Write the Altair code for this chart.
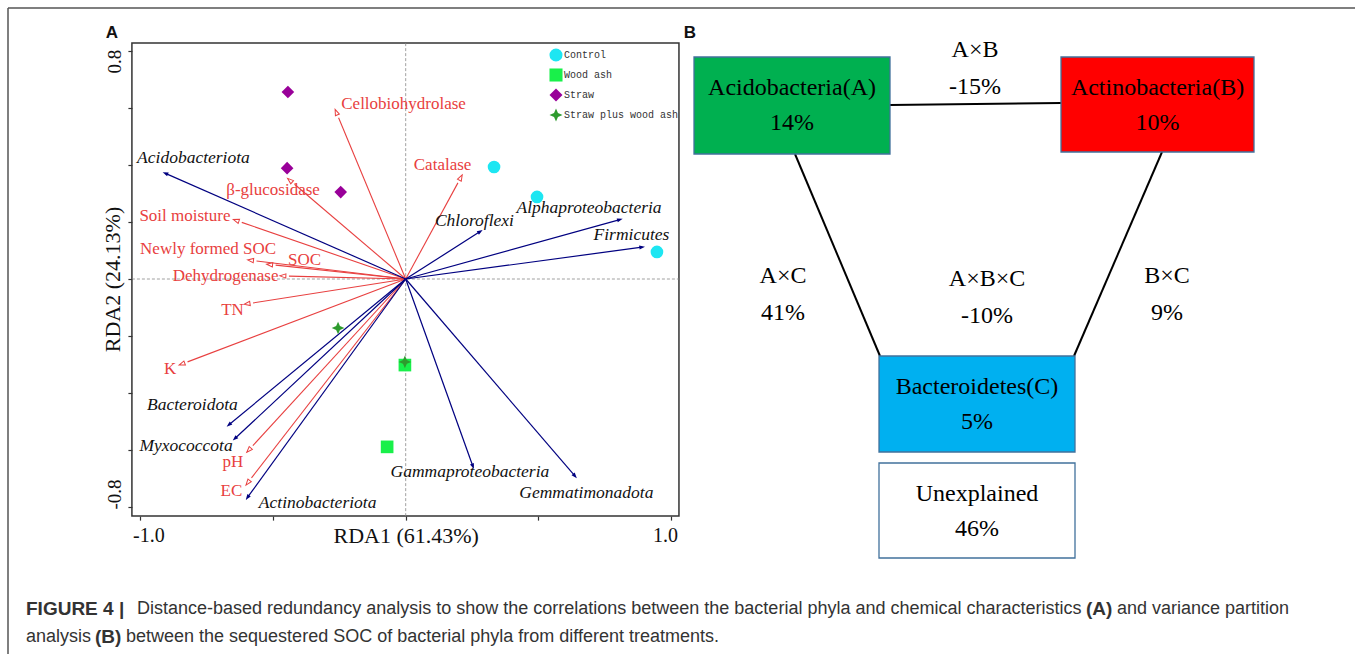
import math
import altair as alt
import pandas as pd

W, H = 1355, 654

# ---------------- data: panel A (RDA biplot) ----------------
env_names = ["Cellobiohydrolase", "Catalase", "β-glucosidase", "Soil moisture",
             "Newly formed SOC", "SOC", "Dehydrogenase", "TN", "K", "pH", "EC"]
env_x = [-0.266, 0.213, -0.445, -0.650, -0.596, -0.524, -0.474, -0.609, -0.854, -0.599, -0.602]
env_y = [0.595, 0.365, 0.353, 0.209, 0.067, 0.052, 0.011, -0.089, -0.302, -0.608, -0.723]
env_lab_x = [-0.008, 0.139, -0.500, -0.832, -0.745, -0.381, -0.679, -0.653, -0.888, -0.651, -0.657]
env_lab_y = [0.614, 0.400, 0.312, 0.221, 0.105, 0.067, 0.011, -0.109, -0.316, -0.642, -0.744]

phy_names = ["Acidobacteriota", "Chloroflexi", "Alphaproteobacteria", "Firmicutes",
             "Gammaproteobacteria", "Gemmatimonadota", "Bacteroidota", "Myxococcota",
             "Actinobacteriota"]
phy_x = [-0.916, 0.290, 0.818, 0.902, 0.257, 0.645, -0.675, -0.652, -0.603]
phy_y = [0.375, 0.172, 0.211, 0.113, -0.667, -0.699, -0.518, -0.567, -0.775]
phy_lab_x = [-0.800, 0.259, 0.691, 0.851, 0.242, 0.681, -0.804, -0.828, -0.332]
phy_lab_y = [0.425, 0.204, 0.249, 0.154, -0.677, -0.751, -0.442, -0.586, -0.786]

treatments = ["Control", "Wood ash", "Straw", "Straw plus wood ash"]
smp_trt = ["Straw", "Straw", "Straw", "Control", "Control", "Control",
           "Wood ash", "Wood ash", "Straw plus wood ash", "Straw plus wood ash"]
smp_x = [-0.444, -0.447, -0.245, 0.333, 0.495, 0.947, -0.070, -0.003, -0.255, -0.003]
smp_y = [0.656, 0.389, 0.305, 0.393, 0.288, 0.095, -0.589, -0.302, -0.172, -0.291]

x_ticks = [-1, -0.5, 0, 0.5, 1]
y_ticks = [-0.8, -0.6, -0.4, -0.2, 0, 0.2, 0.4, 0.6, 0.8]
x_title = "RDA1 (61.43%)"
y_title = "RDA2 (24.13%)"

# ---------------- data: panel B (variance partition) ----------------
box_labels = ["Acidobacteria(A)", "Actinobacteria(B)", "Bacteroidetes(C)", "Unexplained"]
box_pcts = ["14%", "10%", "5%", "46%"]
inter_labels = ["A×B", "A×C", "A×B×C", "B×C"]
inter_pcts = ["-15%", "41%", "-10%", "9%"]

# ---------------- caption ----------------
cap_segments = ["FIGURE 4 |",
                "Distance-based redundancy analysis to show the correlations between the bacterial phyla and chemical characteristics",
                "(A)", "and variance partition",
                "analysis", "(B)",
                "between the sequestered SOC of bacterial phyla from different treatments."]
cap_bold = [True, False, True, False, False, True, False]

# ---------------- layout / style ----------------
PX0, KX = 405.7, 265.3      # pixel of RDA1 = 0, pixels per unit
PY0, KY = 279.0, 285.0      # pixel of RDA2 = 0, pixels per unit
XDOM = [(0 - PX0) / KX, (W - PX0) / KX]
YDOM = [(PY0 - H) / KY, PY0 / KY]
XLIM = [-1.032, 1.030]
YLIM = [-0.832, 0.828]

RED = "#e84040"
NAVY = "#000080"
SERIF = "Liberation Serif"
SANS = "Liberation Sans"
HEAD = "M0,0L-0.36,1L0.36,1Z"
STAR = "M0,-1L0.3,-0.3L1,0L0.3,0.3L0,1L-0.3,0.3L-1,0L-0.3,-0.3Z"
trt_colors = ["#1de6f2", "#19f04a", "#990099", "#2e9b2e"]
trt_shapes = ["circle", "square", "diamond", STAR]

box_layout = [(694, 890, 57, 154), (1061, 1254, 57, 152), (879, 1075, 356, 452), (879, 1075, 463, 558)]
box_fill = ["#00b050", "#ff0000", "#00b0f0", "#ffffff"]
inter_pos = [(975, 50), (783, 276), (987, 279), (1167, 276)]
connectors = [(890, 105, 1061, 103), (795, 154, 880, 356), (1162, 152, 1074, 356)]
cap_pos = [(26, 609), (137, 609), (1086, 609), (1117, 609), (26, 637), (95, 637), (126, 637)]

xs = alt.Scale(domain=XDOM, nice=False, zero=False)
ys = alt.Scale(domain=YDOM, nice=False, zero=False)

x_axis = alt.Axis(
    orient="bottom", offset=-(H - (PY0 - YLIM[0] * KY)), values=x_ticks,
    domain=False, grid=False, tickSize=4, tickWidth=1.2, tickColor="#333",
    labelExpr=f"datum.value == -1 ? '-1.0' : datum.value == 1 ? '1.0' : datum.value == 0 ? '{x_title}' : ''",
    labelFont=SERIF, labelColor="#111", labelPadding=5, labelOverlap=False, labelFlush=False,
    labelFontSize={"condition": {"test": "datum.value == 0", "value": 22}, "value": 20},
    labelOffset={"condition": [{"test": "datum.value < -0.5", "value": 8},
                               {"test": "datum.value > 0.5", "value": -6}], "value": 0},
    title=None,
)
y_axis = alt.Axis(
    orient="left", offset=-(PX0 + XLIM[0] * KX), values=y_ticks,
    domain=False, grid=False, tickSize=4, tickWidth=1.2, tickColor="#333",
    labelExpr=f"datum.value == -0.8 ? '-0.8' : datum.value == 0.8 ? '0.8' : datum.value == 0 ? '{y_title}' : ''",
    labelFont=SERIF, labelColor="#111", labelPadding=3, labelAngle=270, labelOverlap=False,
    labelFlush=False, labelAlign="center", labelBaseline="bottom",
    labelFontSize={"condition": {"test": "datum.value == 0", "value": 22}, "value": 19},
    labelOffset={"condition": [{"test": "datum.value > 0.5", "value": 10},
                               {"test": "datum.value < -0.5", "value": -13}], "value": 0},
    title=None,
)


def AX(f):
    return alt.X(f, type="quantitative", scale=xs, axis=x_axis, title=None)


def AY(f):
    return alt.Y(f, type="quantitative", scale=ys, axis=y_axis, title=None)


# ---- panel A frames ----
frame = alt.Chart(pd.DataFrame({"x": [XLIM[0]], "x2": [XLIM[1]], "y": [YLIM[0]], "y2": [YLIM[1]]})).mark_rect(
    fillOpacity=0, stroke="#333", strokeWidth=1.5
).encode(x=AX("x"), x2="x2", y=AY("y"), y2="y2")

zero_v = alt.Chart(pd.DataFrame({"x": [0.0], "y": [YLIM[0]], "y2": [YLIM[1]]})).mark_rule(
    color="#888", strokeWidth=0.8, strokeDash=[3, 2]).encode(x=AX("x"), y=AY("y"), y2="y2")
zero_h = alt.Chart(pd.DataFrame({"y": [0.0], "x": [XLIM[0]], "x2": [XLIM[1]]})).mark_rule(
    color="#888", strokeWidth=0.8, strokeDash=[3, 2]).encode(y=AY("y"), x=AX("x"), x2="x2")


def arrow_df(names, xs_, ys_, shorten):
    rows = []
    for n, dx, dy in zip(names, xs_, ys_):
        lp = math.hypot(dx * KX, dy * KY)
        f = 1 - shorten / lp
        ang = (math.degrees(math.atan2(dx * KX, dy * KY)) + 360) % 360
        rows.append({"name": n, "x0": 0.0, "y0": 0.0, "x": dx, "y": dy,
                     "xl": dx * f, "yl": dy * f, "angle": ang})
    return pd.DataFrame(rows)


env_df = arrow_df(env_names, env_x, env_y, 9)
phy_df = arrow_df(phy_names, phy_x, phy_y, 3)

env_lines = alt.Chart(env_df).mark_rule(color=RED, strokeWidth=1.1).encode(
    x=AX("x0"), y=AY("y0"), x2="xl", y2="yl")
phy_lines = alt.Chart(phy_df).mark_rule(color=NAVY, strokeWidth=1.2).encode(
    x=AX("x0"), y=AY("y0"), x2="xl", y2="yl")
env_heads = alt.Chart(env_df).mark_point(
    shape=HEAD, size=140, filled=False, fill="white", fillOpacity=1, stroke=RED, strokeWidth=1, opacity=1
).encode(x=AX("x"), y=AY("y"), angle=alt.Angle("angle:Q", scale=None))
phy_heads = alt.Chart(phy_df).mark_point(
    shape=HEAD, size=130, filled=True, color=NAVY, opacity=1
).encode(x=AX("x"), y=AY("y"), angle=alt.Angle("angle:Q", scale=None))

env_lab = alt.Chart(pd.DataFrame({"t": env_names, "x": env_lab_x, "y": env_lab_y})).mark_text(
    font=SERIF, fontSize=17, color=RED, align="center", baseline="middle"
).encode(x=AX("x"), y=AY("y"), text="t:N")
phy_lab = alt.Chart(pd.DataFrame({"t": phy_names, "x": phy_lab_x, "y": phy_lab_y})).mark_text(
    font=SERIF, fontSize=17.5, fontStyle="italic", color="#111", align="center", baseline="middle"
).encode(x=AX("x"), y=AY("y"), text="t:N")

leg = alt.Legend(orient="none", legendX=549, legendY=48, title=None, labelFont="Liberation Mono",
                 labelFontSize=10, labelColor="#333", symbolSize=170, rowPadding=6,
                 symbolStrokeWidth=0, padding=0, labelOffset=1, symbolOpacity=1)
samples = alt.Chart(pd.DataFrame({"trt": smp_trt, "x": smp_x, "y": smp_y})).mark_point(
    filled=True, size=160, opacity=1
).encode(
    x=AX("x"), y=AY("y"),
    color=alt.Color("trt:N", scale=alt.Scale(domain=treatments, range=trt_colors), legend=leg),
    shape=alt.Shape("trt:N", scale=alt.Scale(domain=treatments, range=trt_shapes), legend=leg),
)

panelA = alt.layer(frame, zero_v, zero_h, env_lines, phy_lines, env_heads, phy_heads,
                   env_lab, phy_lab, samples)

# ---------------- page layer (panel B, caption, frame) ----------------
PXS = alt.Scale(domain=[0, W], nice=False, zero=False)
PYS = alt.Scale(domain=[0, H], nice=False, zero=False, reverse=True)


def PX(f):
    return alt.X(f, type="quantitative", scale=PXS, axis=None, title=None)


def PY(f):
    return alt.Y(f, type="quantitative", scale=PYS, axis=None, title=None)


outer = alt.Chart(pd.DataFrame({"x": [8, 8], "y": [8, 8], "x2": [W, 8], "y2": [8, H]})).mark_rule(
    color="#555", strokeWidth=1.5).encode(x=PX("x"), y=PY("y"), x2="x2", y2="y2")

letters = alt.Chart(pd.DataFrame({"t": ["A", "B"], "x": [112, 690], "y": [33, 33]})).mark_text(
    font=SANS, fontSize=17, fontWeight="bold", color="#111", baseline="middle", align="center"
).encode(x=PX("x"), y=PY("y"), text="t:N")

bdf = pd.DataFrame({"label": box_labels, "pct": box_pcts, "fill": box_fill,
                    "x0": [b[0] for b in box_layout], "x1": [b[1] for b in box_layout],
                    "y0": [b[2] for b in box_layout], "y1": [b[3] for b in box_layout]})
bdf["ly"] = bdf["y0"] + 31
bdf["py"] = bdf["y0"] + 66
bdf["cx"] = (bdf["x0"] + bdf["x1"]) / 2

cdf = pd.DataFrame([{"x": a, "y": b, "x2": c, "y2": d} for a, b, c, d in connectors])
conn = alt.Chart(cdf).mark_rule(color="#000", strokeWidth=2).encode(
    x=PX("x"), y=PY("y"), x2="x2", y2="y2")
boxes = alt.Chart(bdf).mark_rect(stroke="#41719c", strokeWidth=1.3).encode(
    x=PX("x0"), x2="x1", y=PY("y0"), y2="y1", fill=alt.Fill("fill:N", scale=None))
box_t1 = alt.Chart(bdf).mark_text(font=SERIF, fontSize=24, color="#000", baseline="middle").encode(
    x=PX("cx"), y=PY("ly"), text="label:N")
box_t2 = alt.Chart(bdf).mark_text(font=SERIF, fontSize=24, color="#000", baseline="middle").encode(
    x=PX("cx"), y=PY("py"), text="pct:N")

idf = pd.DataFrame({"label": inter_labels, "pct": inter_pcts,
                    "x": [p[0] for p in inter_pos], "y": [p[1] for p in inter_pos]})
idf["y2"] = idf["y"] + 37
int_t1 = alt.Chart(idf).mark_text(font=SERIF, fontSize=24, color="#000", baseline="middle").encode(
    x=PX("x"), y=PY("y"), text="label:N")
int_t2 = alt.Chart(idf).mark_text(font=SERIF, fontSize=24, color="#000", baseline="middle").encode(
    x=PX("x"), y=PY("y2"), text="pct:N")

capdf = pd.DataFrame({"t": cap_segments, "bold": cap_bold,
                      "x": [p[0] for p in cap_pos], "y": [p[1] for p in cap_pos]})
cap_n = alt.Chart(capdf[~capdf["bold"]]).mark_text(
    font=SANS, fontSize=18, color="#333", align="left", baseline="middle"
).encode(x=PX("x"), y=PY("y"), text="t:N")
cap_b = alt.Chart(capdf[capdf["bold"]]).mark_text(
    font=SANS, fontSize=19, fontWeight="bold", color="#333", align="left", baseline="middle"
).encode(x=PX("x"), y=PY("y"), text="t:N")

page = alt.layer(outer, letters, conn, boxes, box_t1, box_t2, int_t1, int_t2, cap_n, cap_b)

chart = alt.layer(panelA, page).resolve_scale(x="independent", y="independent").properties(
    width=W, height=H, padding=0, autosize=alt.AutoSizeParams(type="none"), background="white"
).configure_view(strokeWidth=0)

chart.save("out.html", embed_options={"renderer": "svg", "actions": False})
